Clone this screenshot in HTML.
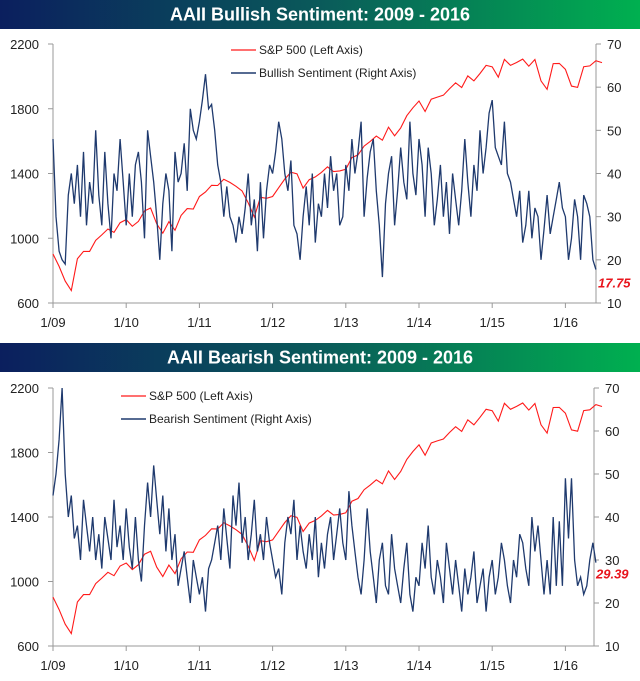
<!DOCTYPE html>
<html><head><meta charset="utf-8">
<style>
body{margin:0;background:#fff;width:640px;height:681px;overflow:hidden;font-family:"Liberation Sans",sans-serif}
svg{display:block}
</style></head>
<body>
<svg id="c" width="640" height="681" xmlns="http://www.w3.org/2000/svg">
<defs>
<linearGradient id="g1" x1="0" x2="1" y1="0" y2="0">
<stop offset="0" stop-color="#0b1f5e"/><stop offset="0.5" stop-color="#0a5a5a"/><stop offset="1" stop-color="#00b050"/>
</linearGradient>
</defs>
</svg>
<script>
const spx=[903,826,735,677,873,919,919,987,1021,1057,1036,1096,1115,
1074,1104,1169,1187,1089,1031,1102,1049,1141,1183,1181,1258,
1286,1327,1326,1364,1345,1321,1292,1219,1131,1253,1247,1258,
1312,1366,1408,1398,1310,1362,1379,1407,1441,1412,1416,1426,
1498,1515,1569,1598,1631,1606,1686,1633,1682,1757,1806,1848,
1783,1859,1872,1884,1924,1960,1931,2003,1972,2018,2068,2059,
1995,2105,2068,2086,2107,2063,2104,1972,1920,2079,2080,2044,
1940,1932,2060,2065,2097,2085];
const bull=[48,30,22,20,19,35,40,33,42,30,45,28,38,33,50,35,28,45,33,25,40,36,48,38,
28,40,30,42,45,38,25,50,44,38,30,20,33,40,36,22,45,38,40,47,36,55,50,48,
52,57,63,55,56,50,42,38,30,37,30,28,24,30,26,32,40,28,34,22,38,25,36,42,
40,45,52,48,40,36,43,28,26,20,30,37,28,40,24,33,30,40,32,44,36,40,28,30,
42,36,48,40,45,52,30,39,45,48,36,28,16,33,40,44,28,36,46,38,34,52,40,35,
48,42,30,46,40,28,34,42,30,38,26,40,34,28,36,48,38,30,42,36,50,40,46,54,
57,46,44,42,52,40,38,34,30,36,24,28,36,25,32,30,20,27,35,26,30,34,38,32,
30,20,25,34,30,20,35,33,30,20,17.75];
const bear=[45,50,58,70,50,40,45,35,38,30,44,38,32,40,30,36,28,40,35,30,44,33,38,30,
42,33,28,40,30,25,38,48,40,52,44,36,45,32,42,30,36,24,28,32,26,20,30,26,
22,26,18,28,30,34,38,30,42,35,28,45,38,48,34,40,30,36,44,32,36,30,40,34,
30,26,28,22,34,40,36,44,30,38,32,28,36,30,40,26,34,28,36,40,30,36,42,34,
30,46,38,32,26,22,30,42,32,26,20,30,34,24,22,36,28,24,20,28,34,22,18,26,
24,34,28,38,26,22,30,26,20,34,28,22,30,24,18,28,22,26,32,20,24,28,18,26,
30,22,26,34,30,24,20,30,26,36,34,28,24,40,32,38,30,22,30,22,40,24,39,24,
49,35,49,30,24,26,22,24,30,34,29.39];
const yearLabels=["1/09","1/10","1/11","1/12","1/13","1/14","1/15","1/16"];
const leftTicks=[600,1000,1400,1800,2200];
const rightTicks=[10,20,30,40,50,60,70];

const svg=document.getElementById('c');
const NS="http://www.w3.org/2000/svg";
function mk(tag,attrs,parent){const e=document.createElementNS(NS,tag);for(const k in attrs)e.setAttribute(k,attrs[k]);(parent||svg).appendChild(e);return e;}

function panel(p){
  const g=mk('g',{});
  
  
  const X0=53,PY=73.2,xR=p.xR;
  const xs=t=>X0+t*PY;
  const yL=v=>p.bot-(v-600)/1600*(p.bot-p.top);
  const yR=v=>p.bot-(v-10)/60*(p.bot-p.top);
  const bar=mk('rect',{x:0,y:p.tb,width:640,height:p.th,fill:'url(#g1)'},g);
  
  
  const tt=mk('text',{x:320,y:p.tb+p.th/2+6,'text-anchor':'middle','font-size':'18','font-weight':'bold',fill:'#fff'},g);
  tt.textContent=p.title;
  
  
  mk('line',{x1:X0,x2:X0,y1:p.top,y2:p.bot,stroke:'#999'},g);
  mk('line',{x1:xR,x2:xR,y1:p.top,y2:p.bot,stroke:'#999'},g);
  mk('line',{x1:X0,x2:xR,y1:p.bot,y2:p.bot,stroke:'#999'},g);
  leftTicks.forEach(v=>{const y=yL(v);mk('line',{x1:X0-5,x2:X0,y1:y,y2:y,stroke:'#999'},g);
    const t=mk('text',{x:39,y:y+5,'text-anchor':'end','font-size':'13',fill:'#222'},g);t.textContent=v;
    });
  rightTicks.forEach(v=>{const y=yR(v);mk('line',{x1:xR,x2:xR+5,y1:y,y2:y,stroke:'#999'},g);
    const t=mk('text',{x:xR+11,y:y+5,'font-size':'13',fill:'#222'},g);t.textContent=v;
    });
  yearLabels.forEach((l,i)=>{const x=xs(i);mk('line',{x1:x,x2:x,y1:p.bot,y2:p.bot+5,stroke:'#999'},g);
    const t=mk('text',{x:x,y:p.bot+24,'text-anchor':'middle','font-size':'13',fill:'#222'},g);t.textContent=l;
    });
  const sp=spx.map((v,i)=>xs(i/12).toFixed(1)+','+yL(v).toFixed(1)).join(' ');
  const l1=mk('polyline',{points:sp,fill:'none',stroke:'#ff1a1a','stroke-width':1.1},g);
  
  const sd=p.data.map((v,i)=>xs(i/24).toFixed(1)+','+yR(v).toFixed(1)).join(' ');
  const l2=mk('polyline',{points:sd,fill:'none',stroke:'#1f3a6e','stroke-width':1.3},g);
  
  const last=p.data[p.data.length-1];
  const lv=mk('text',{x:xR+2,y:yR(last)+p.lo,'font-size':'13','font-weight':'bold','font-style':'italic',fill:'#e8141c'},g);
  lv.textContent=last.toFixed(2);
  
  const lg=mk('g',{},g);
  
  mk('line',{x1:p.lx,x2:p.lx+25,y1:p.ly,y2:p.ly,stroke:'#ff1a1a','stroke-width':1.3},lg);
  const e1=mk('text',{x:p.lx+28,y:p.ly+4,'font-size':'12',fill:'#222'},lg);e1.textContent='S&P 500 (Left Axis)';
  
  mk('line',{x1:p.lx,x2:p.lx+25,y1:p.ly+23,y2:p.ly+23,stroke:'#1f3a6e','stroke-width':1.5},lg);
  const e2=mk('text',{x:p.lx+28,y:p.ly+27,'font-size':'12',fill:'#222'},lg);e2.textContent=p.leg;
  
}
panel({name:'bullish-panel',title:'AAII Bullish Sentiment: 2009 - 2016',tb:0,th:29,top:44,bot:303,xR:596,data:bull,sname:'bullish',leg:'Bullish Sentiment (Right Axis)',lx:231,ly:50,lo:18});
panel({name:'bearish-panel',title:'AAII Bearish Sentiment: 2009 - 2016',tb:343,th:29,top:388,bot:646,xR:594,data:bear,sname:'bearish',leg:'Bearish Sentiment (Right Axis)',lx:121,ly:396,lo:16});
</script>
</body></html>
